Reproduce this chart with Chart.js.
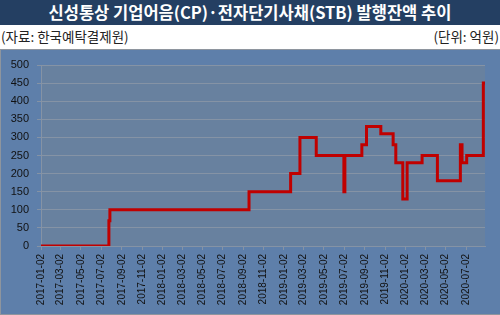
<!DOCTYPE html>
<html>
<head>
<meta charset="utf-8">
<script src="https://cdn.jsdelivr.net/npm/chart.js@4"></script>
<style>
  html, body { margin: 0; padding: 0; width: 500px; height: 315px; overflow: hidden; background: #ffffff; }
  #title { position: absolute; left: 0; top: 0; width: 500px; height: 25px; background: #243F62; color: #ffffff;
    font-family: "Noto Sans CJK KR", sans-serif; font-weight: bold; font-size: 16.5px; line-height: 24px; text-align: center; }
  .sub { position: absolute; top: 26px; font-family: "Noto Sans CJK KR", sans-serif; font-size: 13.5px; color: #222; line-height: 20px; }
  #src { left: 1px; }
  #unit { right: 1px; }
  #box { position: absolute; left: 0; top: 49px; width: 499px; height: 264px; background: #5E7FAA; border: 1px solid #8E959E; }
  #c { position: absolute; left: -1px; top: 0px; }
</style>
</head>
<body>
<div id="title">신성통상 기업어음(CP)·전자단기사채(STB) 발행잔액 추이</div>
<div class="sub" id="src">(자료: 한국예탁결제원)</div>
<div class="sub" id="unit">(단위: 억원)</div>
<div id="box"><canvas id="c" width="500" height="264"></canvas></div>
<script>
// Change points: each date starts a new outstanding balance (억원)
const changeDates = [
  "2017-01-02", "2017-07-25", "2017-07-28", "2018-09-19", "2019-01-22", "2019-02-19",
  "2019-04-09", "2019-07-01", "2019-07-04", "2019-08-24", "2019-09-07", "2019-10-20",
  "2019-11-26", "2019-12-04", "2019-12-25", "2020-01-07", "2020-02-21", "2020-04-07",
  "2020-06-15", "2020-06-20", "2020-07-04", "2020-08-23", "2020-08-28"
];
const balances = [
  0, 70, 100, 150, 200, 300,
  250, 150, 250, 280, 330, 310,
  280, 230, 130, 230, 250, 180,
  280, 230, 250, 450, 450
];
const tickLabels = [
  "2017-01-02","2017-03-02","2017-05-02","2017-07-02","2017-09-02","2017-11-02",
  "2018-01-02","2018-03-02","2018-05-02","2018-07-02","2018-09-02","2018-11-02",
  "2019-01-02","2019-03-02","2019-05-02","2019-07-02","2019-09-02","2019-11-02",
  "2020-01-02","2020-03-02","2020-05-02","2020-07-02"
];
const axisStart = "2017-01-02";
const axisEnd = "2020-08-28";

function dayNum(s) {
  const [y, m, d] = s.split("-").map(Number);
  const [y0, m0, d0] = axisStart.split("-").map(Number);
  return Math.round((Date.UTC(y, m - 1, d) - Date.UTC(y0, m0 - 1, d0)) / 86400000);
}
const labelByDay = {};
tickLabels.forEach(t => { labelByDay[dayNum(t)] = t; });

const points = changeDates.map((d, i) => ({ x: dayNum(d), y: balances[i] }));

const plotBg = {
  id: 'plotBg',
  beforeDraw(chart) {
    const { ctx, chartArea: a } = chart;
    ctx.save();
    ctx.fillStyle = '#68819F';
    ctx.fillRect(a.left, a.top, a.right - a.left, a.bottom - a.top);
    ctx.restore();
  }
};

new Chart(document.getElementById('c'), {
  type: 'line',
  data: {
    datasets: [{
      data: points,
      borderColor: '#C00000',
      borderWidth: 3,
      pointRadius: 0,
      stepped: true,
      fill: false
    }]
  },
  options: {
    responsive: false,
    animation: false,
    layout: { padding: { top: 15, left: 0, right: 15, bottom: 0 } },
    plugins: { legend: { display: false }, tooltip: { enabled: false } },
    scales: {
      x: {
        type: 'linear',
        min: 0,
        max: dayNum(axisEnd),
        afterBuildTicks(scale) {
          scale.ticks = tickLabels.map(t => ({ value: dayNum(t) }));
        },
        afterFit(scale) { scale.height = 68; },
        ticks: {
          autoSkip: false,
          maxRotation: 90,
          minRotation: 90,
          padding: 4,
          color: '#111',
          font: { family: 'Liberation Sans, Arial, sans-serif', size: 10 },
          callback: (v) => labelByDay[v] || ''
        },
        grid: { drawOnChartArea: false, drawTicks: true, tickLength: 4, color: '#8593A5' },
        border: { display: true, color: '#8593A5' }
      },
      y: {
        min: 0,
        max: 500,
        afterFit(scale) { scale.width = 41; },
        ticks: {
          stepSize: 50,
          padding: 8,
          color: '#111',
          font: { family: 'Liberation Sans, Arial, sans-serif', size: 11 }
        },
        grid: { color: '#8593A5', lineWidth: 1, tickLength: 4 },
        border: { display: true, color: '#8593A5' }
      }
    }
  },
  plugins: [plotBg]
});
</script>
</body>
</html>
